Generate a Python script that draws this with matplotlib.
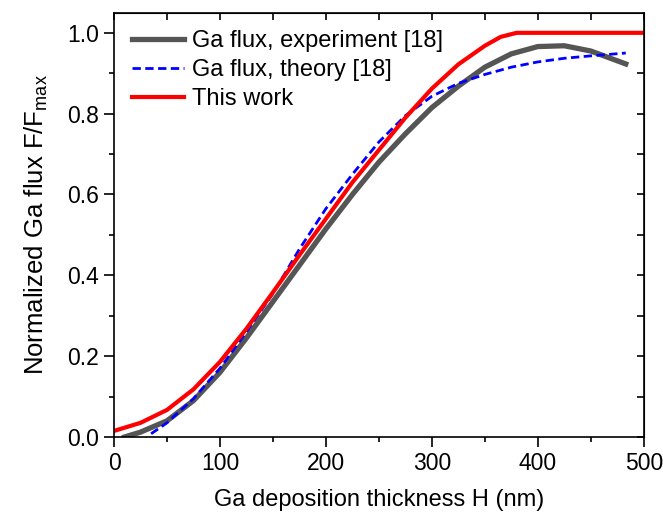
import numpy as np
import matplotlib.pyplot as plt
from matplotlib.ticker import MultipleLocator

plt.rcParams['font.family'] = ['Liberation Sans', 'DejaVu Sans']

# Ga flux, experiment [18]
H_exp = [10, 25, 50, 75, 100, 125, 150, 175, 200, 225, 250, 275, 300, 325, 350, 375, 400, 425, 450, 483]
F_exp = [0.0, 0.012, 0.04, 0.09, 0.16, 0.245, 0.335, 0.425, 0.515, 0.60, 0.68, 0.75, 0.815, 0.868, 0.915, 0.948, 0.966, 0.968, 0.955, 0.923]

# Ga flux, theory [18]
H_th = [35, 50, 75, 100, 125, 150, 175, 200, 225, 250, 275, 300, 325, 350, 375, 400, 425, 450, 483]
F_th = [0.008, 0.035, 0.095, 0.17, 0.26, 0.355, 0.465, 0.565, 0.65, 0.73, 0.795, 0.843, 0.875, 0.897, 0.915, 0.928, 0.937, 0.943, 0.95]

# This work
H_tw = [0, 25, 50, 75, 100, 125, 150, 175, 200, 225, 250, 275, 300, 325, 350, 365, 380, 500]
F_tw = [0.015, 0.035, 0.067, 0.118, 0.186, 0.268, 0.358, 0.45, 0.54, 0.63, 0.71, 0.79, 0.862, 0.922, 0.968, 0.99, 1.0, 1.0]

fig = plt.figure(figsize=(6.63, 5.15), dpi=100)
ax = fig.add_axes([0.172, 0.1515, 0.799, 0.824])

ax.plot(H_exp, F_exp, color='#555555', lw=3.8, label='Ga flux, experiment [18]', solid_joinstyle='round')
ax.plot(H_th, F_th, color='blue', lw=2.0, ls=(0, (3, 1.6)), label='Ga flux, theory [18]')
ax.plot(H_tw, F_tw, color='red', lw=3.0, label='This work', solid_joinstyle='round')

ax.set_xlim(0, 500)
ax.set_ylim(0, 1.05)
ax.xaxis.set_major_locator(MultipleLocator(100))
ax.xaxis.set_minor_locator(MultipleLocator(50))
ax.yaxis.set_major_locator(MultipleLocator(0.2))
ax.yaxis.set_minor_locator(MultipleLocator(0.1))
ax.yaxis.set_major_formatter(plt.FormatStrFormatter('%.1f'))
ax.tick_params(which='major', direction='out', length=7, width=1.2, labelsize=16.5, pad=4)
ax.tick_params(which='minor', direction='out', length=3.5, width=1.2)
for s in ax.spines.values():
    s.set_linewidth(1.2)

top = ax.secondary_xaxis('top')
top.xaxis.set_major_locator(MultipleLocator(100))
top.xaxis.set_minor_locator(MultipleLocator(50))
top.tick_params(which='both', direction='in', labeltop=False, width=1.2, length=5)
right = ax.secondary_yaxis('right')
right.yaxis.set_major_locator(MultipleLocator(0.2))
right.yaxis.set_minor_locator(MultipleLocator(0.1))
right.tick_params(which='both', direction='in', labelright=False, width=1.2, length=5)

ax.set_xlabel('Ga deposition thickness H (nm)', fontsize=17, labelpad=10)
ax.set_ylabel('Normalized Ga flux F/F$_{\\mathregular{max}}$', fontsize=18.5, labelpad=12)

ax.legend(loc='upper left', frameon=False, fontsize=17, handlelength=2.2,
          handletextpad=0.35, labelspacing=0.3, borderaxespad=0.45, borderpad=0.3)

fig.savefig('out.png', dpi=100)
